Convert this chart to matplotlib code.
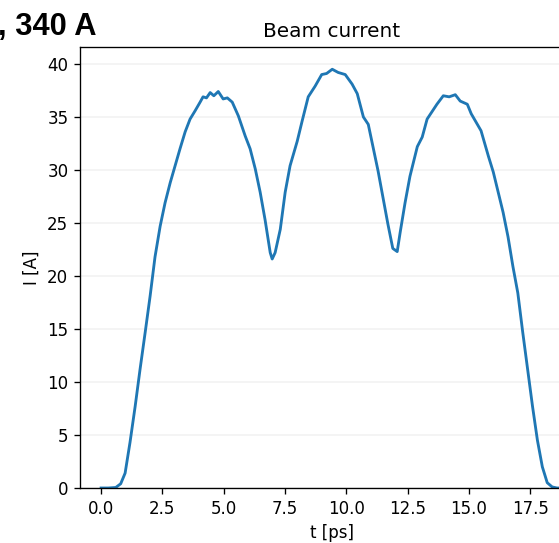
import numpy as np
import matplotlib.pyplot as plt

# beam current profile
t_ps = [0.0, 0.3, 0.6, 0.8, 0.98, 1.18, 1.39, 1.59, 1.80, 2.0, 2.2, 2.41, 2.61,
        2.82, 3.02, 3.22, 3.43, 3.63, 3.84, 4.04, 4.16, 4.3, 4.45, 4.6, 4.78,
        4.98, 5.15, 5.35, 5.6, 5.88, 6.08, 6.29, 6.49, 6.69, 6.9, 6.98, 7.1,
        7.31, 7.51, 7.71, 8.0, 8.2, 8.45, 8.73, 9.0, 9.2, 9.43, 9.67, 9.96,
        10.24, 10.45, 10.7, 10.9, 11.1, 11.3, 11.5, 11.7, 11.9, 12.08, 12.2,
        12.4, 12.6, 12.9, 13.1, 13.3, 13.5, 13.7, 13.96, 14.2, 14.45, 14.65,
        14.94, 15.1, 15.3, 15.5, 15.8, 16.0, 16.2, 16.4, 16.6, 16.8, 17.0,
        17.2, 17.4, 17.6, 17.8, 18.0, 18.2, 18.4, 18.6, 19.0]
current_a = [0.0, 0.0, 0.05, 0.4, 1.4, 4.3, 7.7, 11.2, 14.7, 18.1, 21.8, 24.7,
             26.9, 28.8, 30.4, 32.0, 33.6, 34.8, 35.6, 36.4, 36.9, 36.8, 37.3,
             37.0, 37.4, 36.7, 36.8, 36.4, 35.1, 33.2, 32.0, 30.1, 27.9, 25.3,
             22.2, 21.6, 22.2, 24.4, 27.9, 30.4, 32.7, 34.6, 36.9, 37.9, 39.0,
             39.1, 39.5, 39.2, 39.0, 38.1, 37.2, 35.0, 34.3, 32.1, 29.9, 27.4,
             24.9, 22.6, 22.3, 24.1, 26.9, 29.4, 32.2, 33.1, 34.8, 35.5, 36.2,
             37.0, 36.9, 37.1, 36.5, 36.2, 35.3, 34.5, 33.7, 31.3, 29.8, 27.9,
             26.0, 23.7, 20.9, 18.4, 14.7, 11.2, 7.7, 4.5, 2.0, 0.5, 0.1, 0.0,
             0.0]

fig = plt.figure(figsize=(559 / 120, 543 / 120), dpi=120)
ax = fig.add_axes([80 / 559, 55 / 543, 504 / 559, 441 / 543])

ax.plot(t_ps, current_a, color="#1f77b4", lw=1.7)
ax.set_xlim(-0.86, 19.7)
ax.set_ylim(0, 41.6)
ax.set_xticks(np.arange(0, 18, 2.5))
ax.set_yticks(np.arange(0, 41, 5))
ax.grid(axis="y", color="0.95", lw=1)
ax.set_axisbelow(True)
ax.set_xlabel("t [ps]")
ax.set_ylabel("I [A]")
ax.set_title("Beam current")

fig.text(97 / 559, 1 - 35 / 543, ", 340 A", ha="right", va="baseline",
         fontsize=18.5, fontweight="bold", family=["Liberation Sans", "DejaVu Sans"])

fig.savefig("out.png", dpi=120)
